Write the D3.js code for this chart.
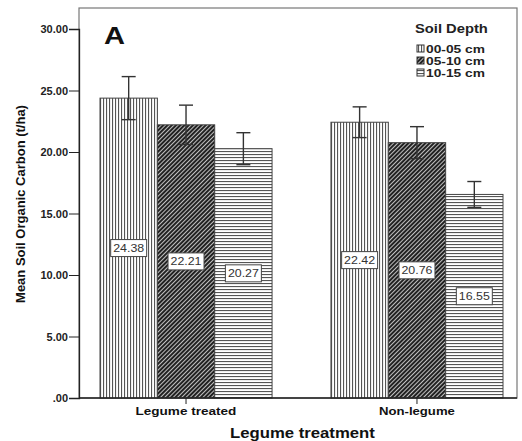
<!DOCTYPE html>
<html lang="en">
<head>
  <meta charset="UTF-8">
  <title>Soil Organic Carbon</title>
  <script src="https://d3js.org/d3.v7.min.js"></script>
  <style>
    body { margin: 0; background: #ffffff; font-family: Arial, "Liberation Sans", sans-serif; }
    svg { display: block; }
  </style>
</head>
<body>
  <div id="chart"></div>
  <script>
    // data
    const treatments = ['Legume treated', 'Non-legume'];
    const depths = ['00-05 cm', '05-10 cm', '10-15 cm'];
    const legumeMeans = [24.38, 22.21, 20.27];
    const nonLegumeMeans = [22.42, 20.76, 16.55];
    const legumeErr = [1.75, 1.6, 1.3];
    const nonLegumeErr = [1.25, 1.3, 1.05];
    const yTicks = [0, 5, 10, 15, 20, 25, 30];

    const width = 522, height = 441;
    const plot = { left: 79, right: 517, top: 8, bottom: 398 };

    const rows = [];
    treatments.forEach((t, i) => {
      const means = i === 0 ? legumeMeans : nonLegumeMeans;
      const errs = i === 0 ? legumeErr : nonLegumeErr;
      depths.forEach((d, j) => rows.push({ treatment: t, depth: d, mean: means[j], err: errs[j] }));
    });

    const svg = d3.select('#chart').append('svg')
      .attr('width', width).attr('height', height);

    // the original figure is stretched sideways, so widen text glyphs to fit
    function addText(parent, x, yPos, str, size, bold, target, anchor) {
      const g = parent.append('g').attr('transform', `translate(${x},${yPos})`);
      const t = g.append('text').attr('font-size', size)
        .attr('font-weight', bold ? 'bold' : 'normal').attr('fill', '#111').text(str);
      const w = t.node().getComputedTextLength();
      const sx = target / w;
      const off = anchor === 'middle' ? -target / 2 : 0;
      t.attr('transform', `translate(${off},0) scale(${sx},1)`);
      return t;
    }

    // fill patterns
    const defs = svg.append('defs');
    const pVert = defs.append('pattern').attr('id', 'pat0')
      .attr('patternUnits', 'userSpaceOnUse').attr('width', 3).attr('height', 3);
    pVert.append('rect').attr('width', 3).attr('height', 3).attr('fill', '#ffffff');
    pVert.append('rect').attr('x', 1).attr('width', 1.1).attr('height', 3).attr('fill', '#555');

    const pDiag = defs.append('pattern').attr('id', 'pat1')
      .attr('patternUnits', 'userSpaceOnUse').attr('width', 3).attr('height', 3)
      .attr('patternTransform', 'rotate(45)');
    pDiag.append('rect').attr('width', 3).attr('height', 3).attr('fill', '#222');
    pDiag.append('rect').attr('x', 1).attr('width', 0.8).attr('height', 3).attr('fill', '#e8e8e8');

    const pHor = defs.append('pattern').attr('id', 'pat2')
      .attr('patternUnits', 'userSpaceOnUse').attr('width', 3).attr('height', 3);
    pHor.append('rect').attr('width', 3).attr('height', 3).attr('fill', '#ffffff');
    pHor.append('rect').attr('y', 1).attr('width', 3).attr('height', 1.1).attr('fill', '#555');

    const y = d3.scaleLinear().domain([0, 30]).range([plot.bottom, 29]);
    const x0 = d3.scaleBand().domain(treatments).range([100, 503]).paddingInner(0.255);
    const x1 = d3.scaleBand().domain(depths).range([0, x0.bandwidth()]);
    const fillOf = d => 'url(#pat' + depths.indexOf(d) + ')';

    // frame
    svg.append('rect')
      .attr('x', plot.left).attr('y', plot.top)
      .attr('width', plot.right - plot.left).attr('height', plot.bottom - plot.top)
      .attr('fill', 'none').attr('stroke', '#777').attr('stroke-width', 1.2);

    // bars
    const bars = svg.append('g');
    bars.selectAll('rect').data(rows).enter().append('rect')
      .attr('x', d => x0(d.treatment) + x1(d.depth))
      .attr('y', d => y(d.mean))
      .attr('width', x1.bandwidth())
      .attr('height', d => y(0) - y(d.mean))
      .attr('fill', d => fillOf(d.depth))
      .attr('stroke', '#444').attr('stroke-width', 1);

    // error bars
    const eb = svg.append('g').attr('stroke', '#333').attr('stroke-width', 1.4);
    rows.forEach(d => {
      const cx = x0(d.treatment) + x1(d.depth) + x1.bandwidth() / 2;
      eb.append('line').attr('x1', cx).attr('x2', cx)
        .attr('y1', y(d.mean + d.err)).attr('y2', y(d.mean - d.err));
      [d.mean + d.err, d.mean - d.err].forEach(v => {
        eb.append('line').attr('x1', cx - 7).attr('x2', cx + 7)
          .attr('y1', y(v)).attr('y2', y(v));
      });
    });

    // value labels in boxes at half height
    const lab = svg.append('g');
    rows.forEach(d => {
      const cx = x0(d.treatment) + x1(d.depth) + x1.bandwidth() / 2;
      const cy = y(d.mean / 2);
      lab.append('rect').attr('x', cx - 18).attr('y', cy - 8.5)
        .attr('width', 36).attr('height', 17)
        .attr('fill', '#fff').attr('stroke', '#444').attr('stroke-width', 1);
      addText(lab, cx, cy + 4, d.mean.toFixed(2), 11, false, 31, 'middle').attr('fill', '#333');
    });

    // y axis
    const yAxis = svg.append('g').attr('transform', `translate(${plot.left},0)`)
      .call(d3.axisLeft(y).tickValues(yTicks).tickSize(10).tickPadding(1)
        .tickFormat(v => v === 0 ? '.00' : v.toFixed(2)));
    yAxis.select('.domain').attr('stroke', '#222').attr('stroke-width', 1.3);
    yAxis.selectAll('.tick line').attr('stroke', '#222');
    yAxis.selectAll('.tick text').attr('font-size', 11).attr('font-weight', 'bold')
      .attr('fill', '#222').attr('font-family', 'Arial, sans-serif');

    // x axis
    const xLabelWidth = { 'Legume treated': 101, 'Non-legume': 76 };
    const xAxis = svg.append('g').attr('transform', `translate(0,${plot.bottom})`)
      .call(d3.axisBottom(x0).tickSize(6).tickSizeOuter(0).tickFormat(''));
    xAxis.select('.domain').attr('stroke', '#222').attr('stroke-width', 1.3)
      .attr('d', `M${plot.left},0H${plot.right}`);
    xAxis.selectAll('.tick line').attr('stroke', '#222');
    treatments.forEach(t => {
      addText(svg, x0(t) + x0.bandwidth() / 2, 415, t, 11, true, xLabelWidth[t], 'middle');
    });

    // axis titles
    addText(svg, 302.5, 438, 'Legume treatment', 14, true, 145, 'middle');
    svg.append('text')
      .attr('transform', `translate(25,${(plot.top + plot.bottom) / 2 + 1}) rotate(-90)`)
      .attr('text-anchor', 'middle').attr('font-size', 13).attr('font-weight', 'bold')
      .attr('fill', '#111').text('Mean Soil Organic Carbon (t/ha)');

    // panel letter
    addText(svg, 104, 44, 'A', 24, true, 21, 'start');

    // legend
    const legend = svg.append('g');
    addText(legend, 415, 33, 'Soil Depth', 12.5, true, 73, 'start').attr('fill', '#222');
    depths.forEach((d, i) => {
      const ly = 45 + i * 12;
      legend.append('rect').attr('x', 417).attr('y', ly).attr('width', 7).attr('height', 7)
        .attr('fill', fillOf(d)).attr('stroke', '#333');
      addText(legend, 426, ly + 7.5, d, 10, true, 59, 'start').attr('fill', '#222');
    });
  </script>
</body>
</html>
